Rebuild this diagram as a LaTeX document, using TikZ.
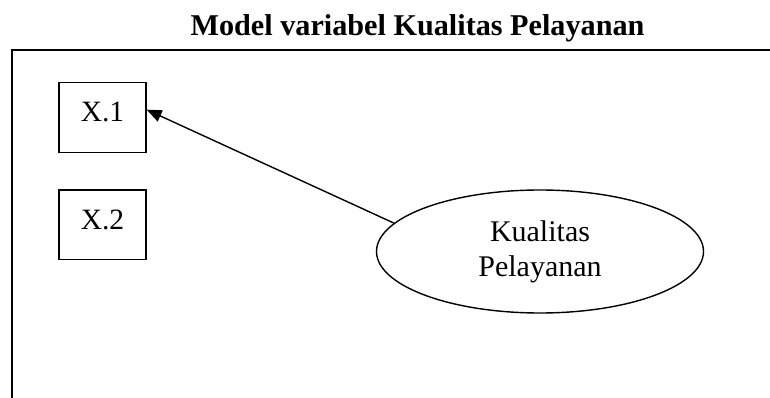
\documentclass[tikz,border=0pt]{standalone}
\usepackage{fontspec}
\setmainfont{Liberation Serif}
\usetikzlibrary{shapes.geometric,arrows.meta,calc}

\tikzset{
  frameline/.style={line width=1.8pt},
  indbox/.style={draw, line width=1.2pt, inner sep=0pt, minimum width=87pt,
    text height=39pt, text depth=30.5pt, anchor=base,
    font=\fontsize{29.5}{35}\selectfont},
  latent/.style={ellipse, draw, line width=1.4pt, inner sep=0pt,
    minimum width=327pt, minimum height=123pt, align=center,
    font=\fontsize{30}{35}\selectfont},
  link/.style={line width=1.4pt, -{Triangle[length=15pt,width=12pt]}},
}

\begin{document}
\begin{tikzpicture}[x=1pt, y=-1pt]
  \useasboundingbox (0,0) rectangle (770,398);

  % title
  \node[anchor=base, inner sep=0pt, font=\fontsize{30.2}{35}\selectfont\bfseries]
    (title) at (417.5,36) {Model variabel Kualitas Pelayanan};

  % open frame: left and top edges only
  \coordinate (fbl) at (12,398);
  \coordinate (ftl) at (12,50);
  \coordinate (ftr) at (770,50);
  \draw[frameline] (fbl) -- (ftl) -- (ftr);

  % indicators
  \node[indbox] (x1) at (102.5,121.7) {X.1};
  \node[indbox] (x2) at (102.5,229) {X.2};

  % latent variable
  \node[latent] (kp) at (540,251.5) {Kualitas\\Pelayanan};

  % loading
  \draw[link] (kp.169) -- ($(x1.north east)!0.39!(x1.south east)$);
\end{tikzpicture}
\end{document}
